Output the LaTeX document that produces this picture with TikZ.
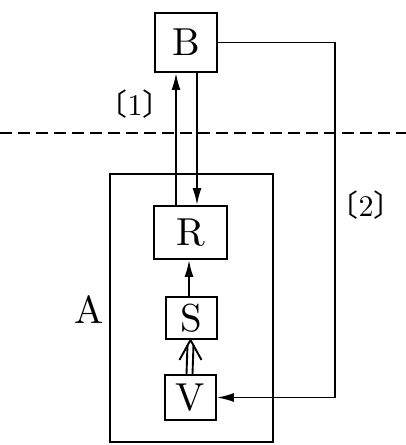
\documentclass[tikz,border=0pt]{standalone}
\usepackage{fontspec}
\setmainfont{lmroman10-regular}[Extension=.otf]
\newfontfamily\cjk{Noto Sans CJK SC}
\usetikzlibrary{arrows.meta}
\newcommand{\brk}[1]{\kern-0.45em{\cjk 〔}#1{\cjk 〕}\kern-0.45em}
\begin{document}
\begin{tikzpicture}[x=1pt,y=-1pt,
  line width=1.9pt,
  blk/.style={draw, inner sep=0pt, font=\fontsize{39}{41}\selectfont},
  lbl/.style={inner sep=0pt, font=\fontsize{30}{32}\selectfont},
  arr/.style={-{Latex[length=17pt,width=9pt]}},
  thin/.style={line width=1.6pt}]
\useasboundingbox (0,0) rectangle (406,445);
% boxes
\node[blk, minimum width=62pt, minimum height=59pt] (B) at (186,42.5) {B};
\node[draw, inner sep=0pt, minimum width=163pt, minimum height=268pt] (frame) at (191.5,308) {};
\node[blk, minimum width=73pt, minimum height=53pt] (R) at (190.5,232.5) {R};
\node[blk, minimum width=51pt, minimum height=42pt] (S) at (191.5,318) {S};
\node[blk, minimum width=51pt, minimum height=45pt] (V) at (190.5,397.5) {V};
% labels
\node[blk, draw=none] (lA) at (89,310) {A};
\node[lbl] (l1) at (135,104) {\brk{1}};
\node[lbl] (l2) at (366,205) {\brk{2}};
% dashed boundary
\coordinate (dl) at (0,133);
\coordinate (dr) at (406,133);
\draw[thin, dash pattern=on 12pt off 6pt] (dl) -- (dr);
% connectors
\draw[arr] ([xshift=-14.5pt]R.north) -- ([xshift=-10pt]B.south);
\draw[arr] ([xshift=11pt]B.south) -- ([xshift=6.5pt]R.north);
\draw[arr] ([xshift=-2.5pt]S.north) -- ([xshift=-1.5pt]R.south);
% double arrow V => S
\draw ([xshift=-4pt]V.north) -- ([shift={(-4pt,-5pt)}]S.south);
\draw ([xshift=2pt]V.north) -- ([shift={(2pt,-5pt)}]S.south);
\draw[line join=miter] ([shift={(-12pt,-20pt)}]S.south) -- ([xshift=-1pt]S.south) -- ([shift={(10pt,-20pt)}]S.south);
\coordinate (corner) at (335,397.5);
\draw[thin, arr] (B.east) -| (corner) -- (V.east);
\end{tikzpicture}
\end{document}
